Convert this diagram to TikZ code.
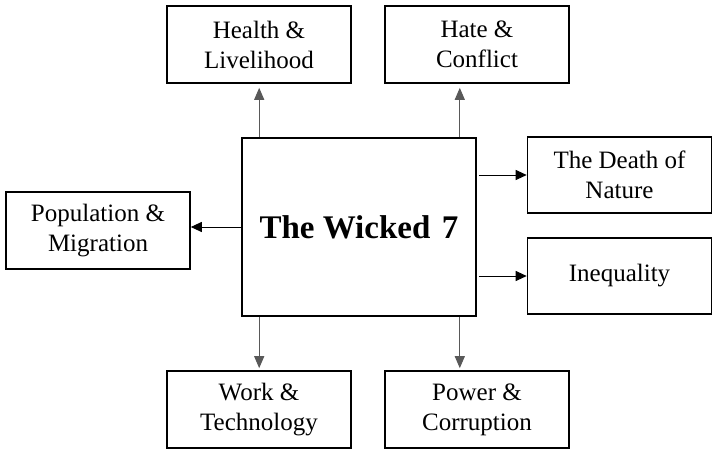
\documentclass[tikz,border=0pt]{standalone}
\usepackage{fontspec}
\setmainfont{Liberation Serif}
\usetikzlibrary{arrows.meta}
\begin{document}
\begin{tikzpicture}[x=1pt,y=-1pt,
  box/.style={draw=black, line width=1.6pt, fill=white, inner sep=0pt,
    minimum width=184pt, minimum height=77pt, align=center,
    font=\fontsize{25}{30}\selectfont},
  bigbox/.style={draw=black, line width=1.6pt, fill=white, inner sep=0pt,
    minimum width=234pt, minimum height=178pt,
    font=\fontsize{33}{38}\selectfont\bfseries},
  varr/.style={draw=black!65, line width=1.1pt, -{Triangle[length=12pt,width=10pt]}},
  harr/.style={draw=black, line width=1pt, -{Triangle[length=11pt,width=10pt]}}
]
\useasboundingbox (0,0) rectangle (713,450);
\node[bigbox] (c) at (359,227) {The Wicked\hspace{0.35em}7};
\node[box] (health) at (259,44.5) {Health \&\\Livelihood};
\node[box] (hate) at (477,44.5) {Hate \&\\Conflict};
\node[box, minimum height=76pt] (death) at (619.5,175) {The Death of\\Nature};
\node[box, minimum height=76pt] (ineq) at (619.5,276) {Inequality};
\node[box] (pop) at (98,230.5) {Population \&\\Migration};
\node[box] (work) at (259,409.5) {Work \&\\Technology};
\node[box] (power) at (477,409.5) {Power \&\\Corruption};
% vertical arrows
\coordinate (tl) at ([xshift=18pt]c.north west);
\coordinate (tr) at ([xshift=-17pt]c.north east);
\coordinate (bl) at ([xshift=18pt]c.south west);
\coordinate (br) at ([xshift=-17pt]c.south east);
\draw[varr, shorten >=4pt] (tl) -- (tl |- health.south);
\draw[varr, shorten >=4pt] (tr) -- (tr |- hate.south);
\draw[varr, shorten >=2pt] (bl) -- (bl |- work.north);
\draw[varr, shorten >=2pt] (br) -- (br |- power.north);
% horizontal arrows
\draw[harr] (c.west) -- (c.west -| pop.east);
\draw[harr, shorten <=2pt] (c.east |- death.west) -- (death.west);
\draw[harr, shorten <=2pt] (c.east |- ineq.west) -- (ineq.west);
\end{tikzpicture}
\end{document}
